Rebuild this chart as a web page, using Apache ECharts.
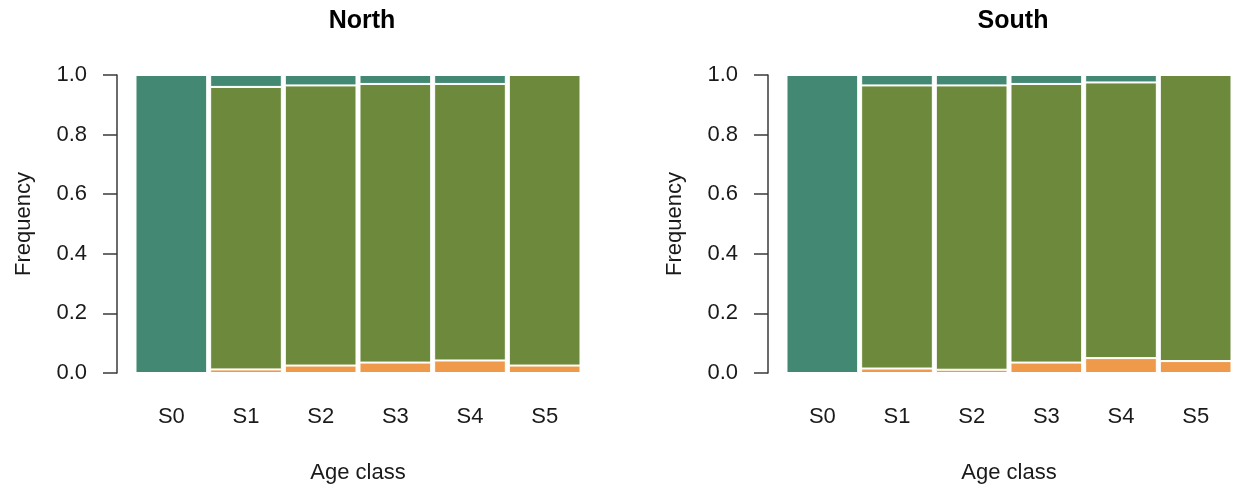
<!DOCTYPE html>
<html>
<head>
<meta charset="utf-8">
<script src="https://cdn.jsdelivr.net/npm/echarts@6/dist/echarts.min.js"></script>
<style>
  html, body { margin: 0; padding: 0; background: #fff; }
  #chart { width: 1235px; height: 496px; }
</style>
</head>
<body>
<div id="chart"></div>
<script>
const ageClasses = ["S0", "S1", "S2", "S3", "S4", "S5"];
const yTicks = [0, 0.2, 0.4, 0.6, 0.8, 1.0];

// North
const northOrange = [0, 0.012, 0.025, 0.035, 0.042, 0.025];
const northGreen = [0, 0.948, 0.94, 0.935, 0.928, 0.975];
const northTeal = [1, 0.04, 0.035, 0.03, 0.03, 0];

// South
const southOrange = [0, 0.015, 0.011, 0.035, 0.05, 0.04];
const southGreen = [0, 0.95, 0.954, 0.935, 0.925, 0.96];
const southTeal = [1, 0.035, 0.035, 0.03, 0.025, 0];

const colors = { orange: "#ef9a4a", green: "#6d893b", teal: "#438873" };
const font = "Liberation Sans, Arial, sans-serif";
const textColor = "#1a1a1a";

const chart = echarts.init(document.getElementById("chart"));

function makeX(gridIndex) {
  return {
    type: "category",
    gridIndex: gridIndex,
    data: ageClasses,
    axisLine: { show: false },
    axisTick: { show: false },
    axisLabel: { color: textColor, fontSize: 22, fontFamily: font, margin: 33 },
    name: "Age class",
    nameLocation: "middle",
    nameGap: 89,
    nameTextStyle: { color: textColor, fontSize: 22, fontFamily: font }
  };
}

function makeY(gridIndex) {
  return {
    type: "value",
    gridIndex: gridIndex,
    min: 0,
    max: 1,
    interval: 0.2,
    offset: 17,
    splitLine: { show: false },
    axisLine: { show: true, lineStyle: { color: "#3a3a3a", width: 1.5 } },
    axisTick: { show: true, length: 14, lineStyle: { color: "#3a3a3a", width: 1.5 } },
    axisLabel: {
      color: textColor, fontSize: 22, fontFamily: font, margin: 30,
      formatter: v => v.toFixed(1)
    },
    name: "Frequency",
    nameLocation: "middle",
    nameGap: 82,
    nameTextStyle: { color: textColor, fontSize: 22, fontFamily: font }
  };
}

function bars(name, data, color, idx, stack) {
  return {
    name: name,
    type: "bar",
    stack: stack,
    xAxisIndex: idx,
    yAxisIndex: idx,
    data: data,
    barWidth: "96%",
    itemStyle: { color: color, borderColor: "#fff", borderWidth: 1 },
    emphasis: { disabled: true }
  };
}

chart.setOption({
  animation: false,
  title: [
    { text: "North", left: 357, top: 4, textAlign: "center",
      textStyle: { fontSize: 25, fontWeight: "bold", color: "#000", fontFamily: font } },
    { text: "South", left: 1008, top: 4, textAlign: "center",
      textStyle: { fontSize: 25, fontWeight: "bold", color: "#000", fontFamily: font } }
  ],
  grid: [
    { left: 134, width: 448, top: 75, height: 298 },
    { left: 785, width: 448, top: 75, height: 298 }
  ],
  xAxis: [makeX(0), makeX(1)],
  yAxis: [makeY(0), makeY(1)],
  series: [
    bars("orange", northOrange, colors.orange, 0, "north"),
    bars("green", northGreen, colors.green, 0, "north"),
    bars("teal", northTeal, colors.teal, 0, "north"),
    bars("orange", southOrange, colors.orange, 1, "south"),
    bars("green", southGreen, colors.green, 1, "south"),
    bars("teal", southTeal, colors.teal, 1, "south")
  ]
});
</script>
</body>
</html>
